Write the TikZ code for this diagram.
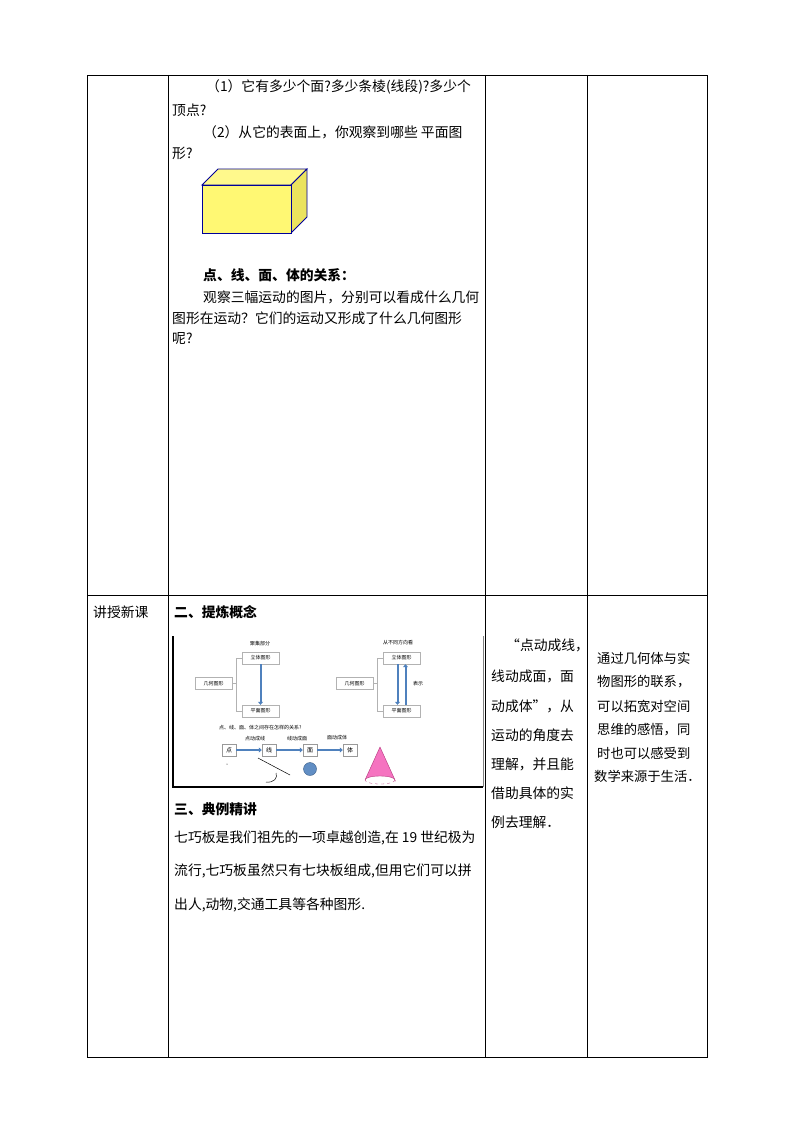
\documentclass[tikz,border=0pt]{standalone}
\usepackage{fontspec}
\setmainfont{Noto Sans CJK SC}
\usetikzlibrary{arrows.meta}
\definecolor{arr}{RGB}{79,129,189}
\tikzset{
 t/.style={anchor=west,inner sep=0pt,font=\fontsize{13.8}{15}\selectfont},
 tk/.style={anchor=west,inner sep=0pt,font=\fontsize{13.3}{15}\selectfont},
 tb/.style={t,font=\fontsize{13.8}{15}\selectfont\bfseries},
 sb/.style={draw=gray!60,inner sep=0pt,minimum width=37pt,minimum height=12pt,font=\fontsize{5}{6}\selectfont},
 cb/.style={draw=gray!80,inner sep=0pt,minimum width=14pt,minimum height=12pt,font=\fontsize{6}{7}\selectfont},
 sl/.style={inner sep=0pt,font=\fontsize{5}{6}\selectfont},
 barr/.style={draw=arr,line width=2pt,-{Triangle[length=3pt,width=5pt]}},
 grid/.style={draw=black,line width=0.7pt}
}
\begin{document}
\begin{tikzpicture}[x=1pt,y=-1pt]
\useasboundingbox (0,0) rectangle (794,1123);
% table
\draw[grid] (87,75) rectangle (707,1057);
\foreach \x in {168,485,587} \draw[grid] (\x,75) -- (\x,1057);
\draw[grid] (87,595) -- (707,595);
% top cell
\node[t] (l1) at (206,87) {（1）它有多少个面?多少条棱(线段)?多少个};
\node[t] (l2) at (172,110) {顶点?};
\node[t] (l3) at (203,132) {（2）从它的表面上，你观察到哪些\ 平面图};
\node[t] (l4) at (172,153) {形?};
\filldraw[draw=blue!60!black,fill=yellow!45,line width=0.8pt] (202,185) -- (218,169) -- (307,169) -- (291,185) -- cycle;
\filldraw[draw=blue!60!black,fill=yellow!70!olive!60,line width=0.8pt] (291,185) -- (307,169) -- (307,217) -- (291,233) -- cycle;
\filldraw[draw=blue!60!black,fill=yellow!55,line width=0.8pt] (202,185) rectangle (291,233);
\node[tb] (l5) at (203,275) {点、线、面、体的关系：};
\node[t] (l6) at (203,297) {观察三幅运动的图片，分别可以看成什么几何};
\node[t] (l7) at (172,318) {图形在运动？它们的运动又形成了什么几何图形};
\node[t] (l8) at (172,339) {呢?};
% second row
\node[t] (c1) at (93,612) {讲授新课};
\node[tb] (h2) at (174,612) {二、提炼概念};
% embedded picture
\draw[line width=1.2pt] (173,636) -- (173,787) -- (483,787);
\draw[gray,line width=0.5pt] (483,636) -- (483,787);
\node[sb] (g1) at (213.5,683.5) {几何图形};
\node[sb] (s1) at (260.5,658) {立体图形};
\node[sb] (p1) at (260.5,711) {平面图形};
\node[sl] (j1) at (260,644) {聚集部分};
\draw[gray!60] (g1.east) -- (236,683.5) (236,658) -- (s1.west) (236,658) -- (236,711) -- (p1.west);
\draw[barr] (s1.south) -- (p1.north);
\node[sb] (g2) at (354.5,683.5) {几何图形};
\node[sb] (s2) at (401.5,658) {立体图形};
\node[sb] (p2) at (401.5,711) {平面图形};
\node[sl] (j2) at (398,643) {从不同方向看};
\node[sl] (bs) at (418,684) {表示};
\draw[gray!60] (g2.east) -- (377,683.5) (377,658) -- (s2.west) (377,658) -- (377,711) -- (p2.west);
\draw[barr] ([xshift=-4pt]s2.south) -- ([xshift=-4pt]p2.north);
\draw[barr] ([xshift=4pt]p2.north) -- ([xshift=4pt]s2.south);
\node[sl,anchor=west] (q) at (219,728) {点、线、面、体之间存在怎样的关系?};
\node[cb] (d) at (229,750) {点};
\node[cb] (x) at (269,750) {线};
\node[cb] (m) at (310,750) {面};
\node[cb] (v) at (350,750) {体};
\node[sl] (a1) at (255,739) {点动成线};
\node[sl] (a2) at (297,739) {线动成面};
\node[sl] (a3) at (337,738) {面动成体};
\draw[barr,line width=1.3pt] (d) -- (x);
\draw[barr,line width=1.3pt] (x) -- (m);
\draw[barr,line width=1.3pt] (m) -- (v);
\fill (227,764) circle (0.5pt);
\draw[line width=0.5pt] (258,758) -- (290,775);
\draw[line width=0.5pt] (276,773) .. controls (278,778) and (274,783) .. (266,782);
\filldraw[fill=arr!90,draw=arr!70!black,line width=0.4pt] (310,769) circle (6.5);
\filldraw[fill=magenta!55,draw=magenta!70!black,line width=0.4pt] (365,780) -- (380,747) -- (395,780) arc (0:-180:15 and 4);
\draw[magenta!70!black,line width=0.3pt,dashed] (395,780) arc (0:180:15 and 4);
\node[tb] (h3) at (174,809) {三、典例精讲};
\node[t] (e1) at (174,838) {七巧板是我们祖先的一项卓越创造,在 19 世纪极为};
\node[t] (e2) at (174,871) {流行,七巧板虽然只有七块板组成,但用它们可以拼};
\node[t] (e3) at (174,905) {出人,动物,交通工具等各种图形.};
% col3
\node[t] (r1) at (506,645) {“点动成线，};
\node[t] (r2) at (491,676) {线动成面，面};
\node[t] (r3) at (491,706) {动成体”，从};
\node[t] (r4) at (491,735) {运动的角度去};
\node[t] (r5) at (491,764) {理解，并且能};
\node[t] (r6) at (491,793) {借助具体的实};
\node[t] (r7) at (491,822) {例去理解．};
% col4
\node[tk] (k1) at (597,658) {通过几何体与实};
\node[tk] (k2) at (597,682) {物图形的联系，};
\node[tk] (k3) at (597,706) {可以拓宽对空间};
\node[tk] (k4) at (597,730) {思维的感悟，同};
\node[tk] (k5) at (597,753) {时也可以感受到};
\node[tk] (k6) at (594,776) {数学来源于生活．};
\end{tikzpicture}
\end{document}
